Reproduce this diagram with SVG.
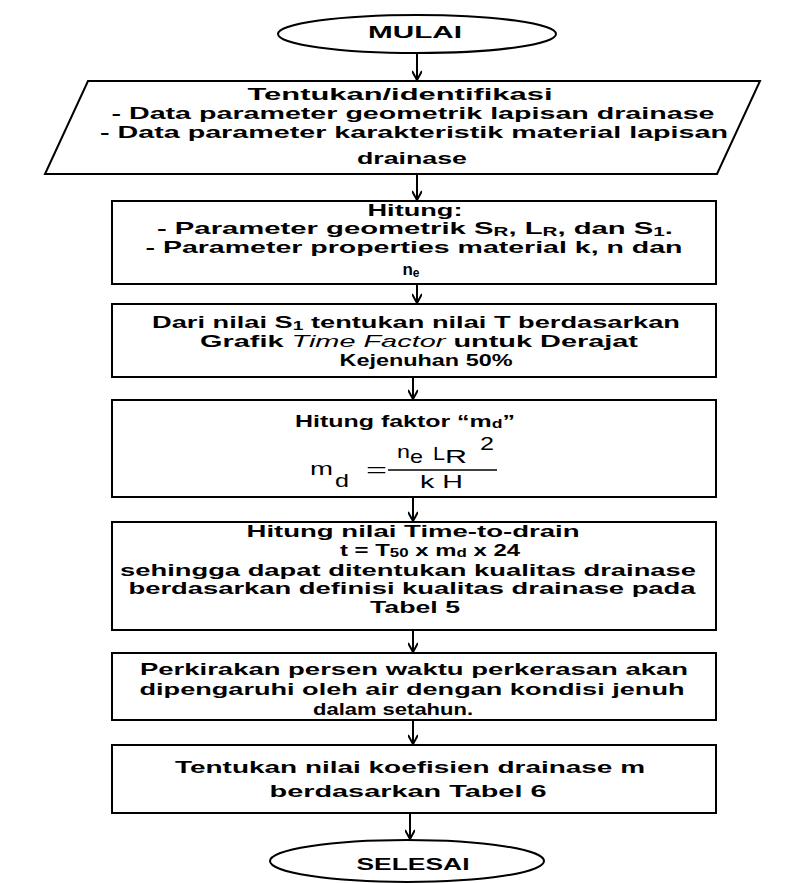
<svg xmlns="http://www.w3.org/2000/svg" width="805" height="883" viewBox="0 0 805 883">
<style>
.s{fill:#fff;stroke:#000;stroke-width:2}
.t{font-family:"Liberation Sans",Arial,sans-serif;font-weight:bold;font-size:17px;fill:#000;text-anchor:middle}
.f{font-family:"Liberation Sans",Arial,sans-serif;font-size:19px;fill:#000}
.c{stroke:#000;stroke-width:2;fill:none}
</style>
<defs>
<marker id="ah" markerWidth="12" markerHeight="10" refX="10" refY="5" orient="auto" markerUnits="userSpaceOnUse">
<path d="M1,0 L10,5 L1,10" fill="none" stroke="#000" stroke-width="2"/>
</marker>
</defs>
<rect width="805" height="883" fill="#fff"/>
<g id="connectors">
<line class="c" x1="417" y1="53" x2="417" y2="80" marker-end="url(#ah)"/>
<line class="c" x1="417" y1="174" x2="417" y2="200" marker-end="url(#ah)"/>
<line class="c" x1="417" y1="284" x2="417" y2="303" marker-end="url(#ah)"/>
<line class="c" x1="413" y1="377" x2="413" y2="399" marker-end="url(#ah)"/>
<line class="c" x1="413" y1="497" x2="413" y2="521" marker-end="url(#ah)"/>
<line class="c" x1="413" y1="630" x2="413" y2="652" marker-end="url(#ah)"/>
<line class="c" x1="413" y1="720" x2="413" y2="744" marker-end="url(#ah)"/>
<line class="c" x1="410" y1="813" x2="410" y2="839" marker-end="url(#ah)"/>
</g>
<g id="mulai">
<ellipse class="s" cx="417" cy="34" rx="139" ry="19"/>
<text class="t" x="415" y="38" textLength="94" lengthAdjust="spacingAndGlyphs">MULAI</text>
</g>
<g id="input">
<polygon class="s" points="88,81 760,81 717,174 45,174"/>
<text class="t" x="400" y="100" textLength="305" lengthAdjust="spacingAndGlyphs">Tentukan/identifikasi</text>
<text class="t" x="413" y="119" textLength="603" lengthAdjust="spacingAndGlyphs">- Data parameter geometrik lapisan drainase</text>
<text class="t" x="414" y="138" textLength="628" lengthAdjust="spacingAndGlyphs">- Data parameter karakteristik material lapisan</text>
<text class="t" x="412" y="164" textLength="110" lengthAdjust="spacingAndGlyphs">drainase</text>
</g>
<g id="hitung">
<rect class="s" x="112" y="201" width="604" height="83"/>
<text class="t" x="415" y="216" textLength="95" lengthAdjust="spacingAndGlyphs">Hitung:</text>
<text class="t" x="415" y="234" textLength="516" lengthAdjust="spacingAndGlyphs">- Parameter geometrik S<tspan font-size="12" dy="2">R</tspan><tspan dy="-2">, L</tspan><tspan font-size="12" dy="2">R</tspan><tspan dy="-2">, dan S</tspan><tspan font-size="12" dy="2">1</tspan><tspan dy="-2">.</tspan></text>
<text class="t" x="414" y="253" textLength="537" lengthAdjust="spacingAndGlyphs">- Parameter properties material k, n dan</text>
<text class="t" x="411" y="275">n<tspan font-size="12" dy="2">e</tspan></text>
</g>
<g id="timefactor">
<rect class="s" x="112" y="304" width="604" height="73"/>
<text class="t" x="416" y="328" textLength="528" lengthAdjust="spacingAndGlyphs">Dari nilai S<tspan font-size="12" dy="2">1</tspan><tspan dy="-2"> tentukan nilai T berdasarkan</tspan></text>
<text class="t" x="419" y="347" textLength="438" lengthAdjust="spacingAndGlyphs">Grafik <tspan font-style="italic" font-weight="normal">Time Factor</tspan> untuk Derajat</text>
<text class="t" x="426" y="366" textLength="173" lengthAdjust="spacingAndGlyphs">Kejenuhan 50%</text>
</g>
<g id="md">
<rect class="s" x="112" y="400" width="604" height="97"/>
<text class="t" x="405" y="427" textLength="220" lengthAdjust="spacingAndGlyphs">Hitung faktor “m<tspan font-size="12" dy="1">d</tspan><tspan dy="-1">”</tspan></text>
<text class="f" x="310" y="475" textLength="23" lengthAdjust="spacingAndGlyphs">m</text>
<text class="f" x="335" y="487" textLength="14" lengthAdjust="spacingAndGlyphs">d</text>
<text class="f" x="366" y="476" textLength="21" lengthAdjust="spacingAndGlyphs">=</text>
<line x1="388" y1="470" x2="497" y2="470" stroke="#000" stroke-width="1.5"/>
<text class="f" x="397" y="458" textLength="13" lengthAdjust="spacingAndGlyphs">n</text>
<text class="f" x="410" y="463" textLength="13" lengthAdjust="spacingAndGlyphs">e</text>
<text class="f" x="433" y="460" textLength="12" lengthAdjust="spacingAndGlyphs">L</text>
<text class="f" x="445" y="463" textLength="22" lengthAdjust="spacingAndGlyphs">R</text>
<text class="f" x="480" y="450" textLength="14" lengthAdjust="spacingAndGlyphs">2</text>
<text class="f" x="420" y="488" textLength="43" lengthAdjust="spacingAndGlyphs">k H</text>
</g>
<g id="timetodrain">
<rect class="s" x="112" y="522" width="604" height="108"/>
<text class="t" x="413" y="537" textLength="333" lengthAdjust="spacingAndGlyphs">Hitung nilai Time-to-drain</text>
<text class="t" x="430" y="556" textLength="180" lengthAdjust="spacingAndGlyphs">t = T<tspan font-size="12" dy="1">50</tspan><tspan dy="-1"> x m</tspan><tspan font-size="12" dy="1">d</tspan><tspan dy="-1"> x 24</tspan></text>
<text class="t" x="408" y="576" textLength="576" lengthAdjust="spacingAndGlyphs">sehingga dapat ditentukan kualitas drainase</text>
<text class="t" x="412" y="594" textLength="567" lengthAdjust="spacingAndGlyphs">berdasarkan definisi kualitas drainase pada</text>
<text class="t" x="415" y="613" textLength="90" lengthAdjust="spacingAndGlyphs">Tabel 5</text>
</g>
<g id="persen">
<rect class="s" x="112" y="653" width="604" height="67"/>
<text class="t" x="414" y="675" textLength="548" lengthAdjust="spacingAndGlyphs">Perkirakan persen waktu perkerasan akan</text>
<text class="t" x="412" y="695" textLength="545" lengthAdjust="spacingAndGlyphs">dipengaruhi oleh air dengan kondisi jenuh</text>
<text class="t" x="393" y="715" textLength="160" lengthAdjust="spacingAndGlyphs">dalam setahun.</text>
</g>
<g id="koefisien">
<rect class="s" x="112" y="745" width="604" height="68"/>
<text class="t" x="410" y="773" textLength="470" lengthAdjust="spacingAndGlyphs">Tentukan nilai koefisien drainase m</text>
<text class="t" x="408" y="797" textLength="277" lengthAdjust="spacingAndGlyphs">berdasarkan Tabel 6</text>
</g>
<g id="selesai">
<ellipse class="s" cx="407" cy="861" rx="137" ry="21"/>
<text class="t" x="413" y="870" textLength="113" lengthAdjust="spacingAndGlyphs">SELESAI</text>
</g>
</svg>
